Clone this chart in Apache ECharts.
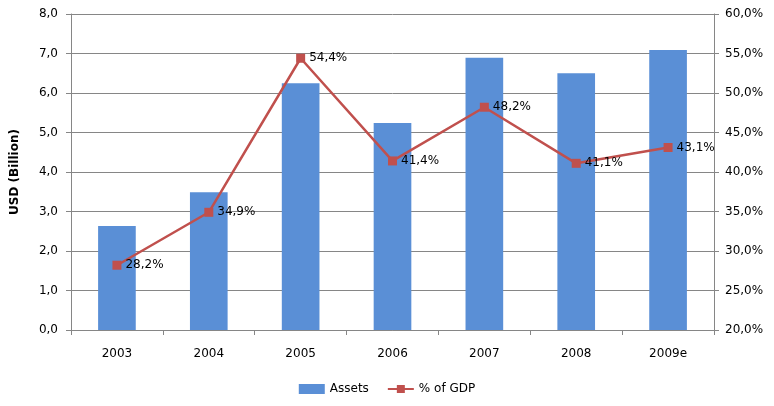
<!DOCTYPE html>
<html>
<head>
<meta charset="utf-8">
<script src="https://cdn.jsdelivr.net/npm/echarts@6/dist/echarts.min.js"></script>
<style>
  html, body { margin: 0; padding: 0; background: #fff; }
  #chart { width: 774px; height: 406px; }
</style>
</head>
<body>
<div id="chart"></div>
<script>
const years = ['2003', '2004', '2005', '2006', '2007', '2008', '2009e'];
const assets = [2.63, 3.49, 6.25, 5.24, 6.89, 6.5, 7.09];
const gdpShare = [28.2, 34.9, 54.4, 41.4, 48.2, 41.1, 43.1];

const font = 'DejaVu Sans';
const comma = (v, d) => v.toFixed(d).replace('.', ',');

const chart = echarts.init(document.getElementById('chart'));

chart.setOption({
  animation: false,
  textStyle: { fontFamily: font },
  grid: { left: 71, right: 60, top: 14, bottom: 76 },
  legend: {
    bottom: 6,
    left: 'center',
    itemWidth: 26,
    itemHeight: 10,
    itemGap: 18,
    textStyle: { fontSize: 12, color: '#000', fontFamily: font },
    data: [
      { name: 'Assets', icon: 'rect' },
      { name: '% of GDP' }
    ]
  },
  xAxis: {
    type: 'category',
    data: years,
    axisLine: { lineStyle: { color: '#868686', width: 1 } },
    axisTick: { show: true, length: 5, lineStyle: { color: '#868686' } },
    axisLabel: { color: '#000', fontSize: 12, margin: 18 }
  },
  yAxis: [
    {
      type: 'value',
      min: 0,
      max: 8,
      interval: 1,
      name: 'USD (Billion)',
      nameLocation: 'middle',
      nameGap: 50,
      nameTextStyle: { fontWeight: 'bold', fontSize: 12, color: '#000' },
      axisLine: { show: true, lineStyle: { color: '#868686' } },
      axisTick: { show: true, length: 5, lineStyle: { color: '#868686' } },
      axisLabel: { color: '#000', fontSize: 12, margin: 13, formatter: v => comma(v, 1) },
      splitLine: { lineStyle: { color: '#868686', width: 1 } }
    },
    {
      type: 'value',
      min: 20,
      max: 60,
      interval: 5,
      position: 'right',
      axisLine: { show: true, lineStyle: { color: '#868686' } },
      axisTick: { show: true, length: 5, lineStyle: { color: '#868686' } },
      axisLabel: { color: '#000', fontSize: 12, margin: 11, formatter: v => comma(v, 1) + '%' },
      splitLine: { show: false }
    }
  ],
  series: [
    {
      name: 'Assets',
      type: 'bar',
      data: assets,
      barWidth: '41%',
      itemStyle: { color: '#5A8FD6' }
    },
    {
      name: '% of GDP',
      type: 'line',
      yAxisIndex: 1,
      data: gdpShare,
      symbol: 'rect',
      symbolSize: 9,
      lineStyle: { color: '#C0504D', width: 2.5 },
      itemStyle: { color: '#C0504D' },
      label: {
        show: true,
        position: 'right',
        distance: 4,
        color: '#000',
        fontSize: 12,
        formatter: p => comma(p.value, 1) + '%'
      }
    }
  ]
});
</script>
</body>
</html>
